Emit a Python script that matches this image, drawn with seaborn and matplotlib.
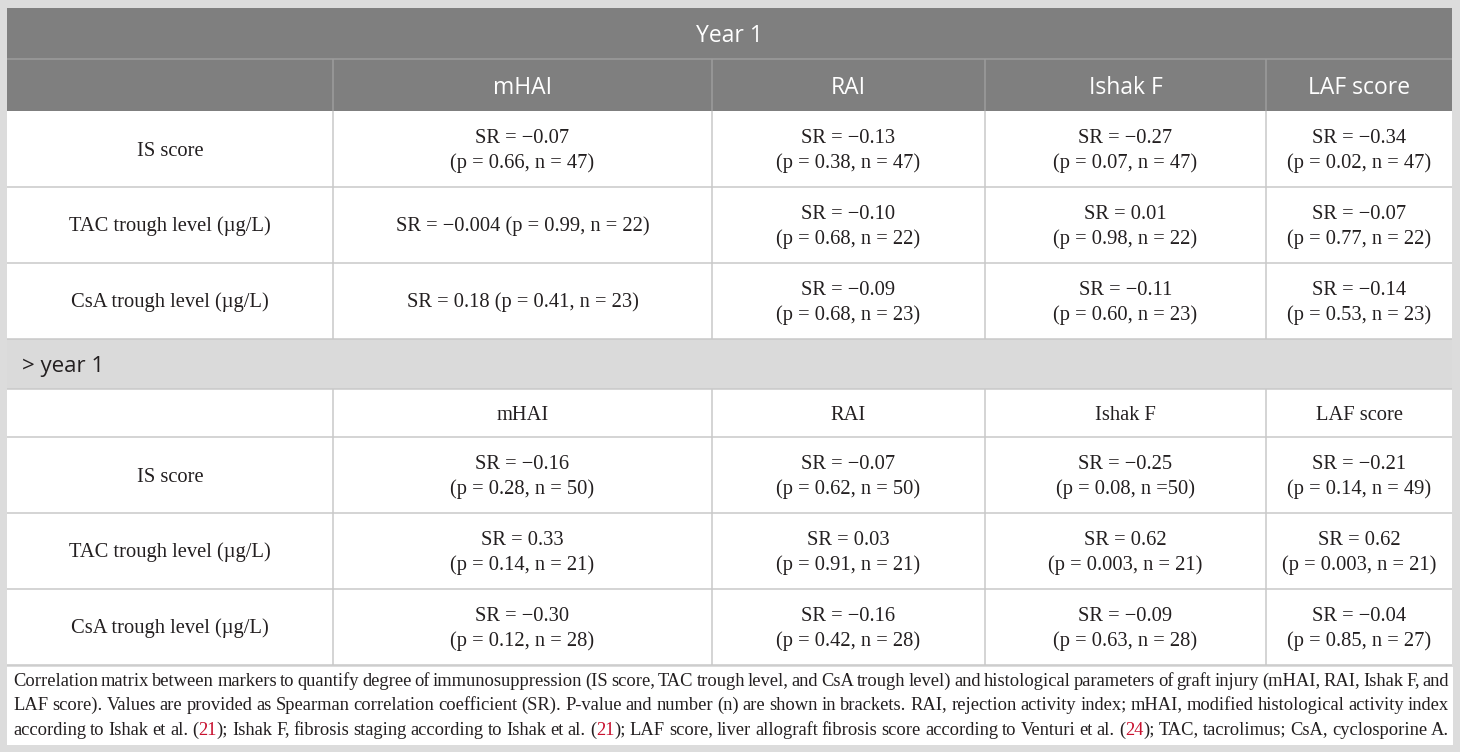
import numpy as np
import matplotlib
matplotlib.use("Agg")
import matplotlib.pyplot as plt
from matplotlib.patches import Rectangle
from matplotlib.backends.backend_agg import get_hinting_flag
import seaborn as sns

sns.set_theme(style="white")

# Table content
groups = ["Year 1", "> year 1"]
markers = ["IS score", "TAC trough level (µg/L)", "CsA trough level (µg/L)"]
params = ["mHAI", "RAI", "Ishak F", "LAF score"]

# Year 1: Spearman r, p-value, n (rows = markers, cols = params)
sr_year1 = [["−0.07", "−0.13", "−0.27", "−0.34"],
            ["−0.004", "−0.10", "0.01", "−0.07"],
            ["0.18", "−0.09", "−0.11", "−0.14"]]
p_year1 = [["0.66", "0.38", "0.07", "0.02"],
           ["0.99", "0.68", "0.98", "0.77"],
           ["0.41", "0.68", "0.60", "0.53"]]
n_year1 = [[47, 47, 47, 47],
           [22, 22, 22, 22],
           [23, 23, 23, 23]]

# > year 1
sr_later = [["−0.16", "−0.07", "−0.25", "−0.21"],
            ["0.33", "0.03", "0.62", "0.62"],
            ["−0.30", "−0.16", "−0.09", "−0.04"]]
p_later = [["0.28", "0.62", "0.08", "0.14"],
           ["0.14", "0.91", "0.003", "0.003"],
           ["0.12", "0.42", "0.63", "0.85"]]
n_later = [[50, 50, 50, 49],
           [21, 21, 21, 21],
           [28, 28, 28, 27]]

# cells printed on one line in the source table, and one with "n =50"
one_line = {(0, 1, 0), (0, 2, 0)}
no_space_n = {(1, 0, 2)}

# caption, reference numbers marked with [..] are shown in red
caption_lines = [
    "Correlation matrix between markers to quantify degree of immunosuppression (IS score, TAC trough level, and CsA trough level) and histological parameters of graft injury (mHAI, RAI, Ishak F, and",
    "LAF score). Values are provided as Spearman correlation coefficient (SR). P-value and number (n) are shown in brackets. RAI, rejection activity index; mHAI, modified histological activity index",
    "according to Ishak et al. ([21]); Ishak F, fibrosis staging according to Ishak et al. ([21]); LAF score, liver allograft fibrosis score according to Venturi et al. ([24]); TAC, tacrolimus; CsA, cyclosporine A.",
]

# Layout (pixels)
W, H = 1460, 752
col_x = [7, 333, 712, 985, 1266, 1452]
top = 8
title_h, head_h, row_h = 51, 52, 76
sub_h, head2_h = 50, 48

dark = "#7f7f7f"
light = "#dadada"
grid = "#c9c9c9"
ink = "#231f20"
ref_red = "#c8102e"
serif = ["Liberation Serif", "DejaVu Serif"]
sans = ["Open Sans", "DejaVu Sans"]
body_size = 14.8

fig = plt.figure(figsize=(W / 100, H / 100), dpi=100, facecolor="#dcdcdc")
ax = fig.add_axes([0, 0, 1, 1])
ax.set_xlim(0, W)
ax.set_ylim(H, 0)
ax.axis("off")


def rect(x0, y0, x1, y1, color):
    ax.add_patch(Rectangle((x0, y0), x1 - x0, y1 - y0, facecolor=color,
                           edgecolor="none", zorder=1))


def cell_text(ci, yc, lines, **kw):
    # yc is the visual centre; baseline sits ~6px below it for serif body text
    xc = (col_x[ci] + col_x[ci + 1]) / 2
    if len(lines) == 1:
        ax.text(xc, yc + 6.5, lines[0], ha="center", va="baseline", **kw)
    else:
        ax.text(xc, yc - 12.5 + 6.5, lines[0], ha="center", va="baseline", **kw)
        ax.text(xc, yc + 12.5 + 6.5, lines[1], ha="center", va="baseline", **kw)


def data_block(g, y0, sr, p, n):
    for r, marker in enumerate(markers):
        ya = y0 + r * row_h
        yc = ya + row_h / 2
        cell_text(0, yc, [marker], family=serif, fontsize=body_size, color=ink, zorder=3)
        for c in range(len(params)):
            eq = "=" if (g, r, c) in no_space_n else "= "
            first = f"SR = {sr[r][c]}"
            second = f"(p = {p[r][c]}, n {eq}{n[r][c]})"
            if (g, r, c) in one_line:
                lines = [first + " " + second]
            else:
                lines = [first, second]
            cell_text(c + 1, yc, lines, family=serif, fontsize=body_size, color=ink, zorder=3)
        ax.hlines(ya + row_h, col_x[0], col_x[-1], color=grid, lw=1.1, zorder=2)
    bottom = y0 + len(markers) * row_h
    ax.vlines(col_x[1:-1], y0, bottom, color=grid, lw=1.1, zorder=2)
    return bottom


# table body background
table_bottom = top + title_h + head_h + 3 * row_h + sub_h + head2_h + 3 * row_h
rect(col_x[0], top, col_x[-1], table_bottom, "white")

# Year 1 section
y = top
rect(col_x[0], y, col_x[-1], y + title_h + head_h, dark)
ax.text((col_x[0] + col_x[-1]) / 2, y + title_h / 2 + 9, groups[0], ha="center",
        va="baseline", family=sans, fontsize=16.5, color="white", zorder=3)
y += title_h
ax.hlines(y, col_x[0], col_x[-1], color="#9c9c9c", lw=1.1, zorder=2)
for c, name in enumerate(params):
    xc = (col_x[c + 1] + col_x[c + 2]) / 2
    ax.text(xc, y + head_h / 2 + 8.5, name, ha="center", va="baseline",
            family=sans, fontsize=16.5, color="white", zorder=3)
ax.vlines(col_x[1:-1], y, y + head_h, color="#9c9c9c", lw=1.1, zorder=2)
y += head_h
y = data_block(0, y, sr_year1, p_year1, n_year1)

# > year 1 section
rect(col_x[0], y, col_x[-1], y + sub_h, light)
ax.text(col_x[0] + 15, y + sub_h / 2 + 8, groups[1], ha="left", va="baseline",
        family=sans, fontsize=16, color=ink, zorder=3)
ax.hlines(y + sub_h, col_x[0], col_x[-1], color=grid, lw=1.1, zorder=2)
y += sub_h
for c, name in enumerate(params):
    cell_text(c + 1, y + head2_h / 2, [name], family=serif, fontsize=body_size,
              color=ink, zorder=3)
ax.vlines(col_x[1:-1], y, y + head2_h, color=grid, lw=1.1, zorder=2)
ax.hlines(y + head2_h, col_x[0], col_x[-1], color=grid, lw=1.1, zorder=2)
y += head2_h
y = data_block(1, y, sr_later, p_later, n_later)

# caption box, justified word by word
cap_top = y + 2
rect(col_x[0], cap_top, col_x[-1] + 1, cap_top + 78, "white")
renderer = fig.canvas.get_renderer()
cap_left, cap_right = 13, 1449
cap_base = [cap_top + 19, cap_top + 43, cap_top + 68]
cap_size = 13.3


def split_segments(word):
    segs = []
    for i, part in enumerate(word.replace("]", "[").split("[")):
        if part:
            segs.append((part, ref_red if i % 2 == 1 else ink))
    return segs


def raster_shift(t):
    # Agg places each word's bitmap with some rounding that depends on the
    # word's own glyph box; work out that shift so all words share a baseline
    font = renderer._prepare_font(t.get_fontproperties())
    font.set_text(t.get_text(), 0, flags=get_hinting_flag())
    d = font.get_descent()
    h = font.get_width_height()[1]
    a_px = (h - d) / 64.0
    d_px = d / 64.0
    return round(d_px) - (np.floor(a_px + d_px) - np.floor(a_px))


for line, yl in zip(caption_lines, cap_base):
    words = line.split(" ")
    items = []
    total = 0.0
    for w in words:
        objs = []
        for part, col in split_segments(w):
            t = ax.text(0, yl, part, ha="left", va="baseline", family=serif,
                        fontsize=cap_size, color=col, zorder=3)
            wpx = t.get_window_extent(renderer).width
            objs.append((t, wpx))
            total += wpx
        items.append(objs)
    gap = (cap_right - cap_left - total) / (len(words) - 1)
    x = cap_left
    for objs in items:
        for t, wpx in objs:
            t.set_x(x)
            t.set_y(yl - raster_shift(t))
            x += wpx
        x += gap

fig.savefig("out.png", dpi=100, facecolor=fig.get_facecolor())
